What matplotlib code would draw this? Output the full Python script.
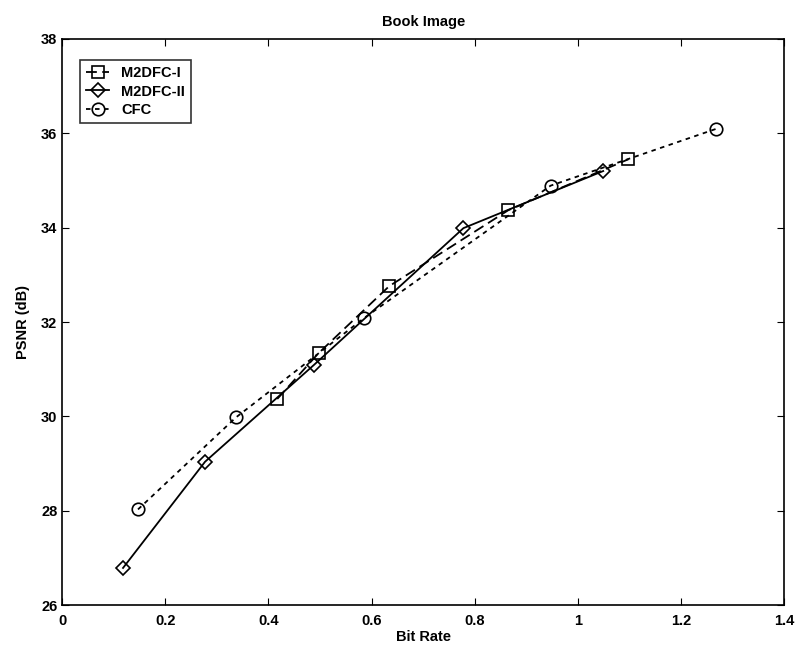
import matplotlib.pyplot as plt

plt.rcParams['font.family'] = ['Liberation Sans', 'DejaVu Sans']
plt.rcParams['font.weight'] = 'bold'
plt.rcParams['axes.labelweight'] = 'bold'
plt.rcParams['axes.titleweight'] = 'bold'

# M2DFC-I
m1_rate = [0.417, 0.497, 0.634, 0.865, 1.098]
m1_psnr = [30.37, 31.34, 32.76, 34.37, 35.45]
# M2DFC-II
m2_rate = [0.118, 0.277, 0.488, 0.778, 1.049]
m2_psnr = [26.79, 29.04, 31.09, 33.99, 35.20]
# CFC
cfc_rate = [0.147, 0.337, 0.586, 0.947, 1.267]
cfc_psnr = [28.03, 29.98, 32.09, 34.89, 36.09]

fig = plt.figure(figsize=(7.97, 6.48), dpi=100)
ax = fig.add_axes([0.078, 0.066, 0.906, 0.874])

ax.plot(m1_rate, m1_psnr, color='black', linestyle=(0, (6, 3)), linewidth=1.3,
        marker='s', markersize=9, markerfacecolor='none', markeredgewidth=1.2,
        label='M2DFC-I')
ax.plot(m2_rate, m2_psnr, color='black', linestyle='-', linewidth=1.3,
        marker='D', markersize=7, markerfacecolor='none', markeredgewidth=1.2,
        label='M2DFC-II')
ax.plot(cfc_rate, cfc_psnr, color='black', linestyle=(0, (2.5, 2.5)), linewidth=1.3,
        marker='o', markersize=9, markerfacecolor='none', markeredgewidth=1.2,
        label='CFC')

ax.set_xlim(0, 1.4)
ax.set_ylim(26, 38)
ax.set_xticks([0, 0.2, 0.4, 0.6, 0.8, 1, 1.2, 1.4])
ax.set_xticklabels(['0', '0.2', '0.4', '0.6', '0.8', '1', '1.2', '1.4'])
ax.set_yticks([26, 28, 30, 32, 34, 36, 38])
ax.tick_params(direction='in', top=True, right=True, labelsize=10.5, length=5)
ax.tick_params(axis='x', pad=6)
for s in ax.spines.values():
    s.set_linewidth(1.2)

ax.set_xlabel('Bit Rate', fontsize=10.5, labelpad=2)
ax.set_ylabel('PSNR (dB)', fontsize=10.5, labelpad=8)
ax.set_title('Book Image', fontsize=10.5, pad=9)

leg = ax.legend(loc='upper left', fontsize=10.5, frameon=True, fancybox=False,
                edgecolor='black', handlelength=1.6, borderpad=0.4,
                labelspacing=0.3, bbox_to_anchor=(0.015, 0.975))
leg.get_frame().set_linewidth(1.2)

fig.savefig('out.png', dpi=100)
